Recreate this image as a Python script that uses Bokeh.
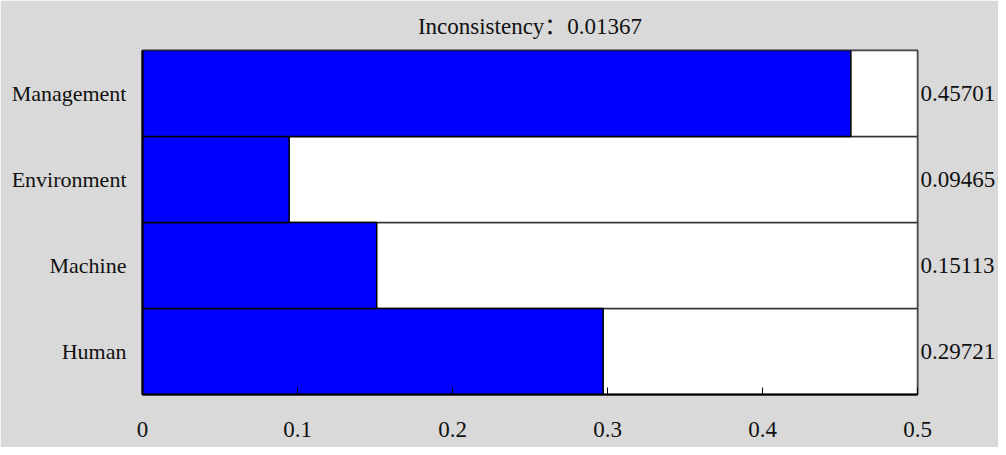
from bokeh.plotting import figure
from bokeh.models import FactorRange, Range1d, CategoricalAxis, FixedTicker
from bokeh.embed import file_html
from bokeh.resources import INLINE

categories = ["Human", "Machine", "Environment", "Management"]
weights = [0.29721, 0.15113, 0.09465, 0.45701]
weight_labels = ["0.29721", "0.15113", "0.09465", "0.45701"]
x_ticks = [0, 0.1, 0.2, 0.3, 0.4, 0.5]
x_tick_labels = ["0", "0.1", "0.2", "0.3", "0.4", "0.5"]
title_text = "Inconsistency\uff1a0.01367"
x_max = 0.5

FONT = "Liberation Serif"
TITLE_FONT = "'Liberation Serif', 'Noto Sans CJK SC'"
BG = "#d9d9d9"
TXT = "#111111"

p = figure(
    width=998, height=447,
    y_range=FactorRange(factors=categories, range_padding=0),
    x_range=Range1d(0, x_max),
    output_backend="svg", toolbar_location=None,
    min_border_left=142, min_border_right=81,
    min_border_top=50, min_border_bottom=53,
    title=title_text,
)
p.border_fill_color = BG
p.background_fill_color = BG
p.outline_line_color = "#333333"
p.outline_line_width = 2
p.grid.visible = False

p.title.align = "center"
p.title.text_font = TITLE_FONT
p.title.text_font_size = "23px"
p.title.text_font_style = "normal"
p.title.text_color = TXT
p.title.text_line_height = 0.8
p.title.standoff = 23

# white row backgrounds
p.hbar(y=categories, left=0, right=[x_max] * len(categories), height=1.0,
       fill_color="white", line_color="#333333", line_width=1.5)
# blue bars
p.hbar(y=categories, left=0, right=weights, height=1.0,
       fill_color="#0000ff", line_color="black", line_width=1.5)

xa = p.xaxis[0]
xa.ticker = FixedTicker(ticks=x_ticks)
xa.major_label_overrides = {t: l for t, l in zip(x_ticks, x_tick_labels)}
xa.minor_tick_line_color = None
xa.major_tick_in = 7
xa.major_tick_out = 0
xa.major_tick_line_color = "black"
xa.axis_line_color = "black"
xa.axis_line_width = 2
xa.major_label_standoff = 27
xa.major_label_text_font = FONT
xa.major_label_text_font_size = "23px"
xa.major_label_text_color = TXT

ya = p.yaxis[0]
ya.major_tick_line_color = None
ya.minor_tick_line_color = None
ya.major_tick_in = 0
ya.major_tick_out = 0
ya.axis_line_color = "black"
ya.axis_line_width = 2
ya.major_label_standoff = 16
ya.major_label_text_font = FONT
ya.major_label_text_font_size = "22px"
ya.major_label_text_color = TXT

# right-hand value labels: a second categorical range whose factors are the values
p.extra_y_ranges = {"vals": FactorRange(factors=weight_labels, range_padding=0)}
ra = CategoricalAxis(
    y_range_name="vals",
    major_tick_line_color=None, minor_tick_line_color=None,
    major_tick_in=0, major_tick_out=0,
    axis_line_color=None, major_label_standoff=3,
    major_label_text_font=FONT, major_label_text_font_size="23px",
    major_label_text_color=TXT,
)
p.add_layout(ra, "right")

open("out.html", "w").write(file_html(p, INLINE))
